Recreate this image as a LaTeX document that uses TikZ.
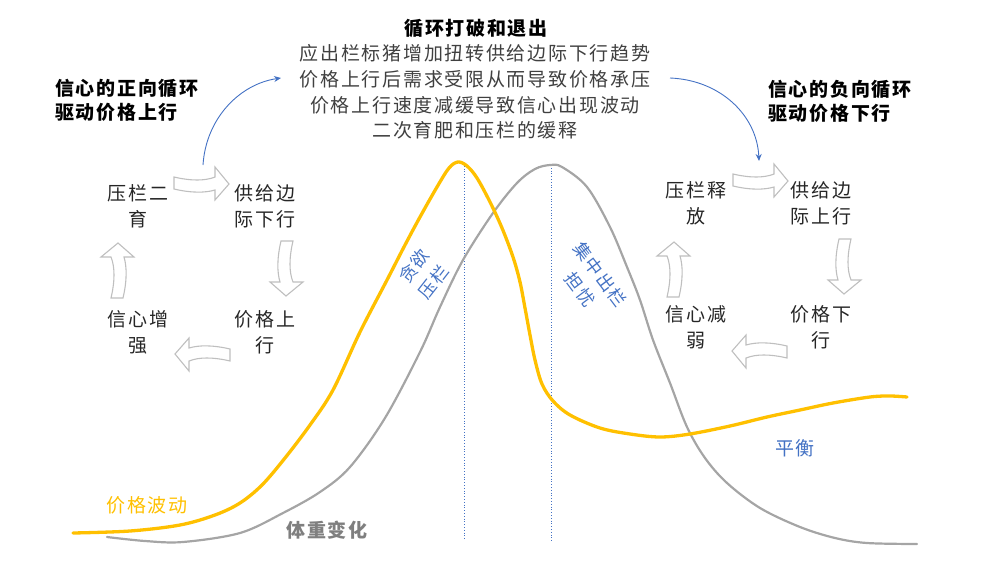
\documentclass[tikz,border=0pt]{standalone}
\usepackage{fontspec}
\setmainfont{Noto Sans CJK SC}[LetterSpace=9]
\usetikzlibrary{arrows.meta}
\definecolor{cyellow}{HTML}{FFC000}
\definecolor{cgray}{HTML}{A5A5A5}
\definecolor{cgraytext}{HTML}{7F7F7F}
\definecolor{cblue}{HTML}{4472C4}
\definecolor{ctext}{HTML}{262626}
\definecolor{cpara}{HTML}{404040}
\definecolor{carrow}{HTML}{BFBFBF}
\tikzset{
  barrow/.pic={
    \draw[draw=carrow, fill=white, line width=1.1pt, line join=miter]
      (-27,-6) .. controls (-10,-2) and (4,-2) .. (14,-6) -- (14,-16) -- (28,1)
      -- (14,17) -- (14,7) .. controls (4,10) and (-10,10) .. (-27,6) -- cycle;
  }
}
\begin{document}
\begin{tikzpicture}[x=1pt,y=-1pt,
  cyc/.style={align=center, text=ctext, font=\fontsize{19}{26}\selectfont, inner sep=0pt},
  sidelbl/.style={align=left, anchor=west, text=black, font=\bfseries\fontsize{19}{24}\selectfont, inner sep=0pt},
  bluelbl/.style={align=center, text=cblue, font=\fontsize{17.5}{25}\selectfont, inner sep=0pt},
  bluearrow/.style={draw=cblue, line width=0.9pt, -{Stealth[length=7pt,width=6pt]}},
  vline/.style={draw=cblue, line width=0.8pt, dotted},
  ycurve/.style={draw=cyellow, line width=3.3pt, line cap=round},
  gcurve/.style={draw=cgray, line width=2.2pt, line cap=round}
]
\useasboundingbox (0,0) rectangle (1004,581);

% dotted vertical lines
\coordinate (v1t) at (464,163);
\coordinate (v1b) at (464,540);
\coordinate (v2t) at (551,165);
\coordinate (v2b) at (551,542);
\draw[vline] (v1t) -- (v1b);
\draw[vline] (v2t) -- (v2b);

% weight curve (gray)
\draw[gcurve] plot[smooth, tension=0.55] coordinates {
 (107,537) (145,541) (183,542) (240,533) (283,513) (320,492) (350,467) (385,418)
 (420,352) (440,307) (463,260) (493,213) (517,183) (535,169) (550,165) (562,167)
 (587,187) (610,227) (627,267) (640,300) (653,340) (670,383) (687,427) (705,458)
 (727,483) (760,508) (800,527) (835,538) (867,543) (917,544)};

% price curve (yellow)
\draw[ycurve] plot[smooth, tension=0.55] coordinates {
 (73,533) (130,531) (180,525) (215,515) (240,503) (262,485) (285,458) (310,425)
 (333,390) (360,332) (387,280) (405,245) (420,217) (437,187) (449,168) (458,162)
 (467,166) (477,178) (490,202) (502,228) (513,257) (520,282) (525,308) (530,335)
 (535,360) (542,384) (553,401) (570,415) (600,428) (630,434) (660,437) (690,434)
 (730,426) (767,417) (800,410) (833,403) (870,397) (890,396) (907,397)};

% top paragraph
\node[text=black, font=\bfseries\fontsize{19}{24}\selectfont, inner sep=0pt] (title) at (476,28) {循环打破和退出};
\node[align=center, text=cpara, font=\fontsize{19}{25.7}\selectfont, inner sep=0pt] (para) at (475,92)
 {应出栏标猪增加扭转供给边际下行趋势\\价格上行后需求受限从而导致价格承压\\价格上行速度减缓导致信心出现波动\\二次育肥和压栏的缓释};

% side labels
\node[sidelbl] (sl) at (55,100) {信心的正向循环\\驱动价格上行};
\node[sidelbl] (sr) at (768,101) {信心的负向循环\\驱动价格下行};

% blue arrows
\coordinate (a1s) at (203,165);
\coordinate (a1e) at (281,78);
\draw[bluearrow] (a1s) .. controls (206,118) and (240,84) .. (a1e);
\coordinate (a2s) at (670,78);
\coordinate (a2e) at (759,161);
\draw[bluearrow] (a2s) .. controls (720,80) and (757,115) .. (a2e);

% left cycle
\node[cyc] (l1) at (138,206) {压栏二\\育};
\node[cyc] (l2) at (265,206) {供给边\\际下行};
\node[cyc] (l3) at (265,332) {价格上\\行};
\node[cyc] (l4) at (138,332) {信心增\\强};
\pic at (201,183) {barrow};
\pic[rotate=-90] at (287,268) {barrow};
\pic[rotate=180] at (203,355) {barrow};
\pic[rotate=90] at (117,271) {barrow};

% right cycle
\node[cyc] (r1) at (696,203) {压栏释\\放};
\node[cyc] (r2) at (821,203) {供给边\\际上行};
\node[cyc] (r3) at (821,327) {价格下\\行};
\node[cyc] (r4) at (696,327) {信心减\\弱};
\pic at (760,180) {barrow};
\pic[rotate=-90] at (845,266) {barrow};
\pic[rotate=180] at (760,352) {barrow};
\pic[rotate=90] at (673,270) {barrow};

% rotated labels
\node[bluelbl, rotate=52] (greed) at (424,274) {贪欲\\压栏};
\node[bluelbl, rotate=-53] (worry) at (590,282) {集中出栏\\担忧};

% curve labels
\node[text=cyellow, font=\fontsize{19}{22}\selectfont, inner sep=0pt] (pl) at (147,505) {价格波动};
\node[text=cgraytext, font=\bfseries\fontsize{19}{22}\selectfont, inner sep=0pt] (wl) at (327,530) {体重变化};
\node[text=cblue, font=\fontsize{19}{22}\selectfont, inner sep=0pt] (bl) at (795,448) {平衡};
\end{tikzpicture}
\end{document}
